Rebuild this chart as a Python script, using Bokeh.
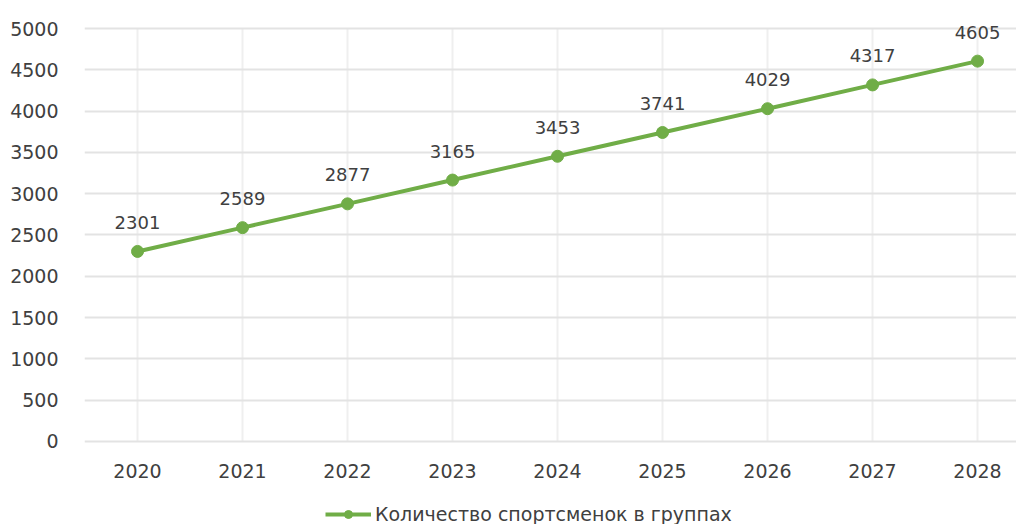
from bokeh.plotting import figure
from bokeh.models import (ColumnDataSource, Range1d, FixedTicker, LabelSet,
                          Legend, LegendItem)
from bokeh.core.properties import value
from bokeh.embed import file_html
from bokeh.resources import INLINE

years = ["2020", "2021", "2022", "2023", "2024", "2025", "2026", "2027", "2028"]
athletes = [2301, 2589, 2877, 3165, 3453, 3741, 4029, 4317, 4605]
series_name = "Количество спортсменок в группах"
y_ticks = [0, 500, 1000, 1500, 2000, 2500, 3000, 3500, 4000, 4500, 5000]

FONT = "DejaVu Sans"
TXT = "#404040"
GREEN = "#70AD47"

idx = list(range(len(years)))
src = ColumnDataSource(dict(x=idx, y=athletes, lab=[str(v) for v in athletes]))

p = figure(width=1016, height=524, output_backend="svg", toolbar_location=None,
           x_range=Range1d(-0.505, 8.371), y_range=Range1d(-1005, 5339),
           min_border_left=84, min_border_right=0, min_border_top=0,
           min_border_bottom=0)
p.outline_line_color = None

p.xaxis.ticker = FixedTicker(ticks=idx)
p.xaxis.major_label_overrides = {i: y for i, y in zip(idx, years)}
p.xaxis.fixed_location = 0
p.yaxis.ticker = FixedTicker(ticks=y_ticks)
for ax in (p.xaxis[0], p.yaxis[0]):
    ax.axis_line_color = None
    ax.major_tick_line_color = None
    ax.minor_tick_line_color = None
    ax.major_label_text_font = FONT
    ax.major_label_text_font_size = "19px"
    ax.major_label_text_color = TXT
p.yaxis.major_label_standoff = 20
p.xaxis.major_label_standoff = 17

p.ygrid.grid_line_color = "#e3e3e3"
p.ygrid.grid_line_width = 2
p.xgrid.grid_line_color = "#efefef"
p.xgrid.grid_line_width = 2
p.xgrid.cross_bounds = (0, 5000)

line = p.line("x", "y", source=src, line_color=GREEN, line_width=4)
dots = p.scatter("x", "y", source=src, size=12, fill_color=GREEN, line_color=GREEN)

labels = LabelSet(x="x", y="y", text="lab", source=src, y_offset=29,
                  text_align="center", text_baseline="middle",
                  text_font=value(FONT), text_font_size=value("18px"),
                  text_color=TXT)
p.add_layout(labels)

legend = Legend(items=[LegendItem(label=series_name, renderers=[line, dots])],
                location=(241, -1), orientation="horizontal",
                border_line_color=None, background_fill_alpha=0,
                glyph_width=46, glyph_height=20, label_standoff=4,
                label_text_font=FONT, label_text_font_size="19px",
                label_text_color=TXT, padding=0, margin=0)
p.add_layout(legend)

open("out.html", "w").write(file_html(p, INLINE))
